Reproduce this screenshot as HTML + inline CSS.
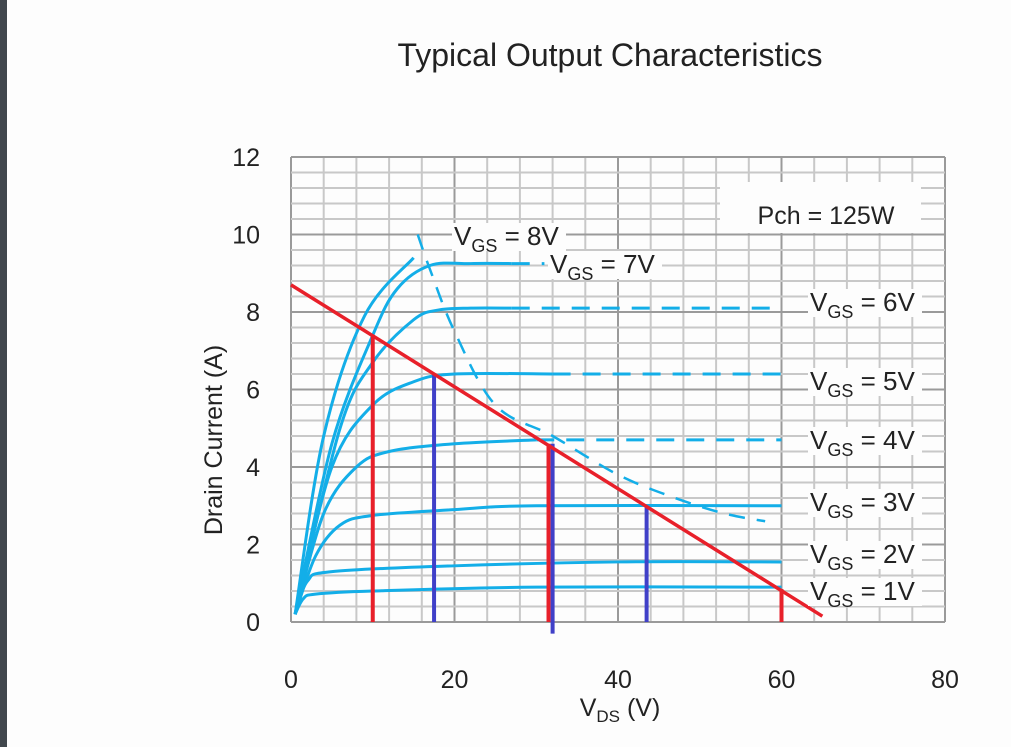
<!DOCTYPE html>
<html><head><meta charset="utf-8"><style>
body{margin:0;width:1011px;height:747px;background:#fdfdfd;overflow:hidden;font-family:"Liberation Sans",sans-serif}
#bar{position:absolute;left:0;top:0;width:7px;height:747px;background:#41474d}
svg{position:absolute;left:0;top:0}
text{font-family:"Liberation Sans",sans-serif;fill:#222}
</style></head><body>
<div id="bar"></div>
<svg id="c" width="1011" height="747"></svg>
<script>
const xTicks=[0,20,40,60,80];
const yTicks=[0,2,4,6,8,10,12];
const vgsNames=["1V","2V","3V","4V","5V","6V","7V","8V"];
const vgs1=[[0.5,0.2],[1.5,0.6],[3,0.72],[10,0.8],[30,0.9],[60,0.9]];
const vgs2=[[0.5,0.2],[2,1.05],[5,1.3],[20,1.45],[40,1.55],[60,1.55]];
const vgs3=[[0.5,0.2],[3,1.7],[6,2.5],[10,2.75],[20,2.9],[30,3.0],[60,3.0]];
const vgs4=[[0.5,0.2],[4,2.8],[8,4.0],[12,4.4],[20,4.6],[30,4.7]];
const vgs5=[[0.5,0.2],[5,4.0],[10,5.6],[15,6.2],[20,6.4],[32,6.4]];
const vgs6=[[0.5,0.2],[6,5.0],[10,6.7],[15,7.8],[18,8.05],[22,8.1],[27,8.1]];
const vgs7=[[0.5,0.2],[5,4.6],[10,7.4],[13,8.6],[17,9.2],[22,9.25],[27,9.25]];
const vgs8=[[0.5,0.2],[4,4.8],[9,7.9],[15,9.4]];
const dashExt=[[27,8.1,60],[32,6.4,60],[30,4.7,60],[27,9.25,31]];
const socBoundary=[[15.5,10],[17,9.1],[20,7.5],[25,5.6],[32,4.8],[40,3.8],[47,3.2],[53,2.8],[58,2.6]];
const loadLine=[[0,8.7],[65,0.15]];
const drops=[[10,7.4,0,"#e8202a"],[17.5,6.4,0,"#4040c8"],[31.5,4.6,0,"#e8202a"],[32,4.6,-0.3,"#4040c8"],[43.5,3.0,0,"#4040c8"],[60,0.85,0,"#e8202a"]];
const X0=291,X1=945,Y0=622,Y1=157;
const px=v=>X0+v*(X1-X0)/80, py=v=>Y0-v*(Y0-Y1)/12;
const S="http://www.w3.org/2000/svg", svg=document.getElementById('c');
function el(t,a,p){const e=document.createElementNS(S,t);for(const k in a)e.setAttribute(k,a[k]);(p||svg).appendChild(e);return e;}
for(let v=0;v<=80;v+=4){const e=el('line',{x1:px(v),x2:px(v),y1:Y1,y2:Y0,stroke:v%20==0?'#9a9a9a':'#c8c8c8','stroke-width':2});

}
for(let i=0;i<=30;i++){const v=i*0.4;const e=el('line',{x1:X0,x2:X1,y1:py(v),y2:py(v),stroke:i%5==0?'#9a9a9a':'#c8c8c8','stroke-width':2});

}
xTicks.forEach(v=>{const t=el('text',{x:px(v),y:688,'font-size':25,'text-anchor':'middle'});t.textContent=v;

});
yTicks.forEach(v=>{const t=el('text',{x:260,y:py(v)+9,'font-size':25,'text-anchor':'end'});t.textContent=v;

});
function smooth(pts){const P=pts.map(p=>[px(p[0]),py(p[1])]);let d='M'+P[0];for(let i=0;i<P.length-1;i++){const p0=P[i-1]||P[i],p1=P[i],p2=P[i+1],p3=P[i+2]||p2;
d+=' C'+(p1[0]+(p2[0]-p0[0])/6)+','+(p1[1]+(p2[1]-p0[1])/6)+' '+(p2[0]-(p3[0]-p1[0])/6)+','+(p2[1]-(p3[1]-p1[1])/6)+' '+p2[0]+','+p2[1];}return d;}
const blue='#13aee8';
[vgs1,vgs2,vgs3,vgs4,vgs5,vgs6,vgs7,vgs8].forEach((c,i)=>{const e=el('path',{d:smooth(c),fill:'none',stroke:blue,'stroke-width':3});

});
dashExt.forEach(d=>{const e=el('line',{x1:px(d[0]),x2:px(d[2]),y1:py(d[1]),y2:py(d[1]),stroke:blue,'stroke-width':3,'stroke-dasharray':'18,12'});

});
{const e=el('path',{d:smooth(socBoundary),fill:'none',stroke:blue,'stroke-width':2.5,'stroke-dasharray':'16,12'});

}
drops.forEach(d=>{const e=el('line',{x1:px(d[0]),x2:px(d[0]),y1:py(d[1]),y2:py(d[2]),stroke:d[3],'stroke-width':4});

});
{const e=el('line',{x1:px(loadLine[0][0]),y1:py(loadLine[0][1]),x2:px(loadLine[1][0]),y2:py(loadLine[1][1]),stroke:'#e8202a','stroke-width':3.5});

}
{const r=el('rect',{x:720,y:182,width:201,height:51,fill:'#fdfdfd'});


const t=el('text',{x:826,y:224,'font-size':25,'text-anchor':'middle'});t.textContent='Pch = 125W';

}
const labPos=[[810,600],[810,563],[810,511],[810,449],[810,390],[810,311],[550,273],[454,245]];
labPos.forEach((p,i)=>{const bg=el('rect',{x:p[0]-2,y:p[1]-22,width:114,height:28,fill:'#fdfdfd'});


const t=el('text',{x:p[0],y:p[1],'font-size':26});t.innerHTML='V<tspan font-size="18" dy="7">GS</tspan><tspan dy="-7"> = '+vgsNames[i]+'</tspan>';

});
{const t=el('text',{x:610,y:66,'font-size':32,'text-anchor':'middle'});t.textContent='Typical Output Characteristics';

}
{const t=el('text',{x:620,y:716,'font-size':25,'text-anchor':'middle'});t.innerHTML='V<tspan font-size="17" dy="6">DS</tspan><tspan dy="-6">  (V)</tspan>';

}
{const t=el('text',{x:0,y:0,'font-size':25,'text-anchor':'middle',transform:'translate(222,440) rotate(-90)'});t.textContent='Drain Current (A)';

}
</script>
</body></html>
